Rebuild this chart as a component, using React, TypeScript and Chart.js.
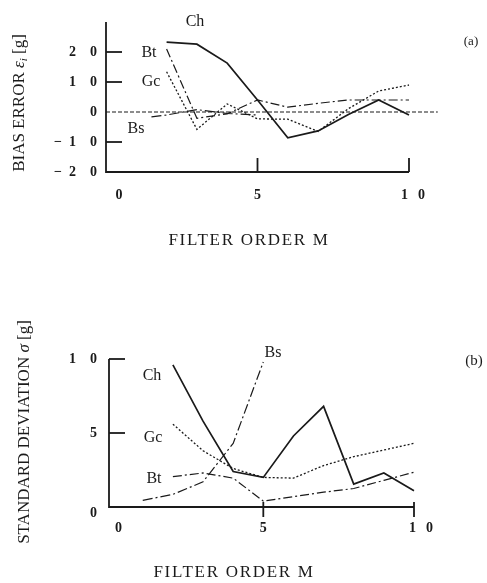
import React, { useEffect, useRef } from "react";
import { Chart, registerables } from "chart.js";
Chart.register(...registerables);

// ---------- Panel (a): bias error ----------
const orderA = [2, 3, 4, 5, 6, 7, 8, 9, 10];
const chA = [23.3, 22.6, 16.3, 4, -8.6, -6.3, -0.8, 4, -1];
const btA = [21, -2.1, -0.6, 4, 1.6, 2.9, 4, 4, 4];
const gcA = [13.4, -5.8, 2.7, -2.3, -2.4, -6.5, 1.1, 7, 9];
const bsOrderA = [1.5, 2, 3, 4, 5];
const bsA = [-1.6, -1.0, 0.8, -0.5, -1.0];
const zeroX = [0, 10.95];
const zeroY = [0, 0];
const yTicksA = [20, 10, 0, -10, -20];
const yLabelsA = ["2\u20030", "1\u20030", "0", "−\u20021\u20030", "−\u20022\u20030"];

// ---------- Panel (b): standard deviation ----------
const orderB = [2, 3, 4, 5, 6, 7, 8, 9, 10];
const chB = [9.6, 5.8, 2.4, 2.0, 4.8, 6.8, 1.55, 2.3, 1.1];
const gcB = [5.6, 3.8, 2.6, 2.0, 1.95, 2.8, 3.4, 3.85, 4.3];
const btB = [2.05, 2.3, 1.95, 0.4, 0.7, 1.0, 1.25, 1.8, 2.35];
const bsOrderB = [1, 2, 3, 4, 5];
const bsB = [0.45, 0.85, 1.7, 4.3, 9.8];
const yTicksB = [10, 5, 0];
const yLabelsB = ["1\u20030", "5", "0"];

const xTicks = [0, 5, 10];
const xLabels = ["0", "5", "1\u2002\u20090"];

const INK = "#1a1a1a";
const SERIF = '"Liberation Serif", "DejaVu Serif", serif';

const pts = (xs: number[], ys: number[]) => xs.map((x, i) => ({ x, y: ys[i] }));

function line(label: string, data: any[], dash: number[], width = 1.3) {
  return {
    label,
    data,
    borderColor: INK,
    borderWidth: width,
    borderDash: dash,
    pointRadius: 0,
    tension: 0,
    fill: false,
    clip: false as any,
  };
}

type Deco = {
  yTicks: number[];
  yLabels: string[];
  yMarks: number[];
  xMarks: number[];
  xMarkUp: number;
  xMarkDown: number;
  xLabelY: number;
  xLabelDx: number[];
  yLabelDy: (v: number) => number;
  xTitle: [number, number];
  yTitle: [number, number];
  yTitleParts: { t: string; italic?: boolean; sub?: boolean }[];
  seriesLabels: { t: string; x: number; y: number }[];
  panel: { t: string; x: number; y: number; size: number };
};

function decoPlugin(d: Deco) {
  return {
    id: "deco",
    afterDraw(chart: any) {
      const ctx = chart.ctx as CanvasRenderingContext2D;
      const xs = chart.scales.x;
      const ys = chart.scales.y;
      const x0 = xs.getPixelForValue(xs.min);
      const x10 = xs.getPixelForValue(10);
      const yTop = ys.getPixelForValue(ys.max);
      const yBot = ys.getPixelForValue(ys.min);
      ctx.save();
      ctx.strokeStyle = INK;
      ctx.fillStyle = INK;
      ctx.lineWidth = 1.8;
      ctx.setLineDash([]);
      // axes
      ctx.beginPath();
      ctx.moveTo(x0, yTop);
      ctx.lineTo(x0, yBot);
      ctx.lineTo(x10, yBot);
      ctx.stroke();
      // y marks (inward)
      d.yMarks.forEach((v) => {
        const y = ys.getPixelForValue(v);
        ctx.beginPath();
        ctx.moveTo(x0, y);
        ctx.lineTo(x0 + 16, y);
        ctx.stroke();
      });
      // x marks
      d.xMarks.forEach((v) => {
        const x = xs.getPixelForValue(v);
        ctx.beginPath();
        ctx.moveTo(x, yBot - d.xMarkUp);
        ctx.lineTo(x, yBot + d.xMarkDown);
        ctx.stroke();
      });
      // tick labels
      ctx.font = "bold 14px " + SERIF;
      ctx.textBaseline = "middle";
      ctx.textAlign = "right";
      d.yTicks.forEach((v, i) => {
        ctx.fillText(d.yLabels[i], 97, ys.getPixelForValue(v) + d.yLabelDy(v));
      });
      ctx.textAlign = "center";
      xTicks.forEach((v, i) => {
        ctx.fillText(xLabels[i], xs.getPixelForValue(v) + d.xLabelDx[i], d.xLabelY);
      });
      // x title
      ctx.font = "17px " + SERIF;
      (ctx as any).letterSpacing = "1.7px";
      ctx.fillText("FILTER ORDER M", d.xTitle[0], d.xTitle[1]);
      (ctx as any).letterSpacing = "0px";
      // y title (rotated)
      ctx.save();
      ctx.translate(d.yTitle[0], d.yTitle[1]);
      ctx.rotate(-Math.PI / 2);
      ctx.textAlign = "left";
      const fontFor = (p: any) =>
        (p.italic ? "italic " : "") + (p.sub ? "11px " : "17px ") + SERIF;
      let total = 0;
      d.yTitleParts.forEach((p) => {
        ctx.font = fontFor(p);
        total += ctx.measureText(p.t).width;
      });
      let cx = -total / 2;
      d.yTitleParts.forEach((p) => {
        ctx.font = fontFor(p);
        ctx.fillText(p.t, cx, p.sub ? 4 : 0);
        cx += ctx.measureText(p.t).width;
      });
      ctx.restore();
      // series labels
      ctx.font = "16px " + SERIF;
      ctx.textAlign = "center";
      d.seriesLabels.forEach((s) => ctx.fillText(s.t, s.x, s.y));
      ctx.font = d.panel.size + "px " + SERIF;
      ctx.fillText(d.panel.t, d.panel.x, d.panel.y);
      ctx.restore();
    },
  };
}

function Panel(props: {
  width: number;
  height: number;
  top: number;
  datasets: any[];
  xMin: number;
  yMin: number;
  yMax: number;
  padding: { left: number; right: number; top: number; bottom: number };
  deco: Deco;
}) {
  const ref = useRef<HTMLCanvasElement | null>(null);
  useEffect(() => {
    if (!ref.current) return;
    const chart = new Chart(ref.current, {
      type: "line",
      data: { datasets: props.datasets },
      options: {
        responsive: false,
        animation: false,
        devicePixelRatio: 1,
        layout: { padding: props.padding },
        plugins: { legend: { display: false }, tooltip: { enabled: false } },
        scales: {
          x: { type: "linear", min: props.xMin, max: 10, display: false },
          y: { type: "linear", min: props.yMin, max: props.yMax, display: false },
        },
      },
      plugins: [decoPlugin(props.deco)],
    } as any);
    return () => chart.destroy();
  }, []);
  return (
    <canvas
      ref={ref}
      width={props.width}
      height={props.height}
      style={{
        position: "absolute",
        left: 0,
        top: props.top,
        width: props.width,
        height: props.height,
        display: "block",
      }}
    />
  );
}

export default function App() {
  const dsA = [
    line("zero", pts(zeroX, zeroY), [4, 2], 1.1),
    line("Ch", pts(orderA, chA), [], 1.7),
    line("Bt", pts(orderA, btA), [9, 3, 2, 3], 1.2),
    line("Gc", pts(orderA, gcA), [2, 2], 1.3),
    line("Bs", pts(bsOrderA, bsA), [10, 3, 2, 3], 1.2),
  ];
  const dsB = [
    line("Ch", pts(orderB, chB), [], 1.7),
    line("Gc", pts(orderB, gcB), [2, 2], 1.3),
    line("Bt", pts(orderB, btB), [9, 3, 2, 3], 1.2),
    line("Bs", pts(bsOrderB, bsB), [10, 3, 2, 3], 1.2),
  ];
  const decoA: Deco = {
    yTicks: yTicksA,
    yLabels: yLabelsA,
    yMarks: [20, 10, -10],
    xMarks: [5, 10],
    xMarkUp: 14,
    xMarkDown: 0,
    xLabelY: 195,
    xLabelDx: [13, 0, 4],
    yLabelDy: () => 0,
    xTitle: [249, 241],
    yTitle: [20, 103],
    yTitleParts: [
      { t: "BIAS ERROR " },
      { t: "ε", italic: true },
      { t: "i", italic: true, sub: true },
      { t: " [g]" },
    ],
    seriesLabels: [
      { t: "Ch", x: 195, y: 22 },
      { t: "Bt", x: 149, y: 53 },
      { t: "Gc", x: 151, y: 82 },
      { t: "Bs", x: 136, y: 129 },
    ],
    panel: { t: "(a)", x: 471, y: 42, size: 13 },
  };
  const decoB: Deco = {
    yTicks: yTicksB,
    yLabels: yLabelsB,
    yMarks: [10, 5],
    xMarks: [5, 10],
    xMarkUp: 5,
    xMarkDown: 10,
    xLabelY: 528 - 250,
    xLabelDx: [6, 0, 7],
    yLabelDy: (v) => (v === 0 ? 6 : 0),
    xTitle: [234, 573 - 250],
    yTitle: [25, 432 - 250],
    yTitleParts: [
      { t: "STANDARD DEVIATION " },
      { t: "σ", italic: true },
      { t: " [g]" },
    ],
    seriesLabels: [
      { t: "Bs", x: 273, y: 353 - 250 },
      { t: "Ch", x: 152, y: 376 - 250 },
      { t: "Gc", x: 153, y: 438 - 250 },
      { t: "Bt", x: 154, y: 479 - 250 },
    ],
    panel: { t: "(b)", x: 474, y: 361 - 250, size: 15 },
  };
  return (
    <div
      style={{
        position: "absolute",
        left: 0,
        top: 0,
        width: 487,
        height: 583,
        background: "#fff",
        overflow: "hidden",
      }}
    >
      <Panel
        width={487}
        height={250}
        top={0}
        datasets={dsA}
        xMin={0}
        yMin={-20}
        yMax={30}
        padding={{ left: 106, right: 78, top: 22, bottom: 78 }}
        deco={decoA}
      />
      <Panel
        width={487}
        height={333}
        top={250}
        datasets={dsB}
        xMin={-0.12}
        yMin={0}
        yMax={10}
        padding={{ left: 109, right: 73, top: 109, bottom: 76 }}
        deco={decoB}
      />
    </div>
  );
}
